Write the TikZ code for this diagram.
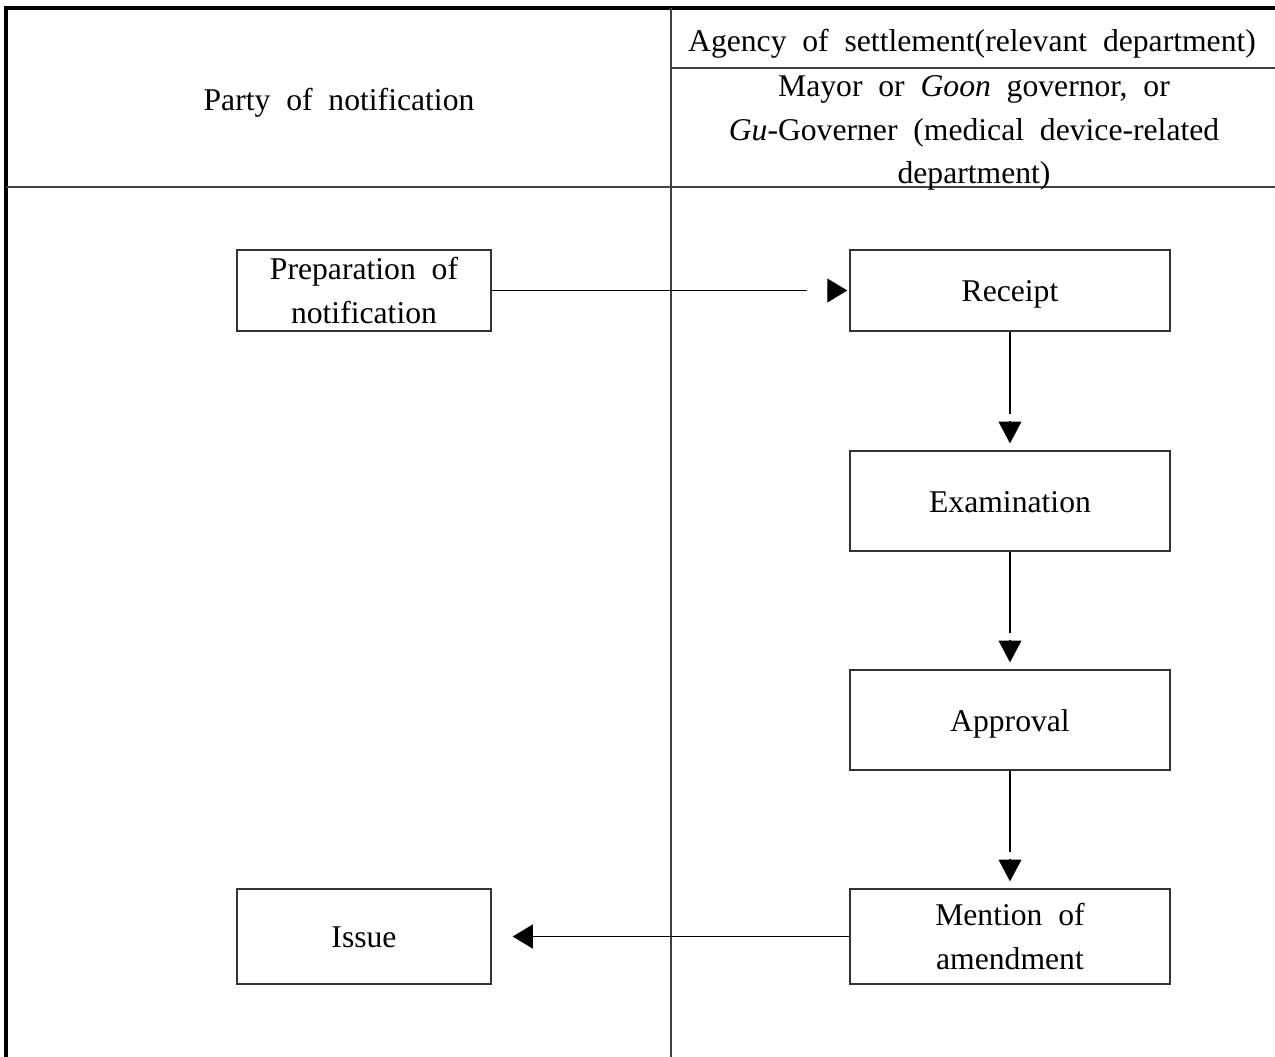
\documentclass[tikz,border=0pt]{standalone}
\usepackage{fontspec}
\setmainfont{Liberation Serif}
\usetikzlibrary{arrows.meta}
\begin{document}
\begin{tikzpicture}[x=0.01cm,y=-0.01cm,
  every node/.style={font=\fontsize{9}{12.5}\selectfont, inner sep=0pt},
  oneline/.style={text height=0.73em, text depth=0.08em},
  frame/.style={line width=0.9pt, black},
  rule/.style={line width=0.35pt, black!75},
  stepbox/.style={draw=black!80, line width=0.35pt, align=center},
  conn/.style={line width=0.35pt, black},
  tipright/.style={line width=0.35pt, black,
    -{Triangle[length=5.7pt,width=6.8pt]}},
  tipdown/.style={line width=0.35pt, black,
    -{Triangle[length=6.2pt,width=6.5pt]}}]
\useasboundingbox (0,0) rectangle (1275,1056);

% table frame
\draw[frame] (6,1060) -- (6,8) -- (1280,8);
\draw[rule] (671,8) -- (671,1060);
\draw[rule] (671,68) -- (1280,68);
\draw[rule] (6,187) -- (1280,187);

% headings
\node[oneline] (party) at (339,99) {Party\ \ of\ \ notification};
\node[oneline] (agency) at (972,40) {Agency\ \ of\ \ settlement(relevant\ \ department)};
\node[align=center, font=\fontsize{9}{12.3}\selectfont] (mayor) at (974,133)
  {Mayor\ \ or\ \ \textit{Goon}\ \ governor,\ \ or\\
   \textit{Gu}-Governer\ \ (medical\ \ device-related\\
   department)};

% process steps
\node[stepbox, minimum height=0.81cm, minimum width=2.54cm] (prep) at (364,290.5)
  {Preparation\ \ of\\notification};
\node[stepbox, oneline, minimum height=0.81cm, minimum width=3.2cm] (receipt) at (1010,290.5) {Receipt};
\node[stepbox, oneline, minimum height=1.0cm, minimum width=3.2cm] (exam) at (1010,501) {Examination};
\node[stepbox, oneline, minimum height=1.0cm, minimum width=3.2cm] (appr) at (1010,720) {Approval};
\node[stepbox, minimum height=0.95cm, minimum width=3.2cm] (mention) at (1010,936.5)
  {Mention\ \ of\\amendment};
\node[stepbox, oneline, minimum height=0.95cm, minimum width=2.54cm] (issue) at (364,936.5) {Issue};

% connectors: the line stops short of a separate arrowhead
\draw[conn, shorten >=0.42cm] (prep.east) -- (receipt.west);
\draw[tipright, shorten >=0.02cm] ([xshift=-0.22cm]receipt.west) -- (receipt.west);

\draw[conn, shorten >=0.36cm] (receipt.south) -- (exam.north);
\draw[tipdown, shorten >=0.07cm] ([yshift=0.29cm]exam.north) -- (exam.north);

\draw[conn, shorten >=0.36cm] (exam.south) -- (appr.north);
\draw[tipdown, shorten >=0.07cm] ([yshift=0.29cm]appr.north) -- (appr.north);

\draw[conn, shorten >=0.36cm] (appr.south) -- (mention.north);
\draw[tipdown, shorten >=0.07cm] ([yshift=0.29cm]mention.north) -- (mention.north);

\draw[tipright, shorten >=0.21cm] (mention.west) -- (issue.east);
\end{tikzpicture}
\end{document}
